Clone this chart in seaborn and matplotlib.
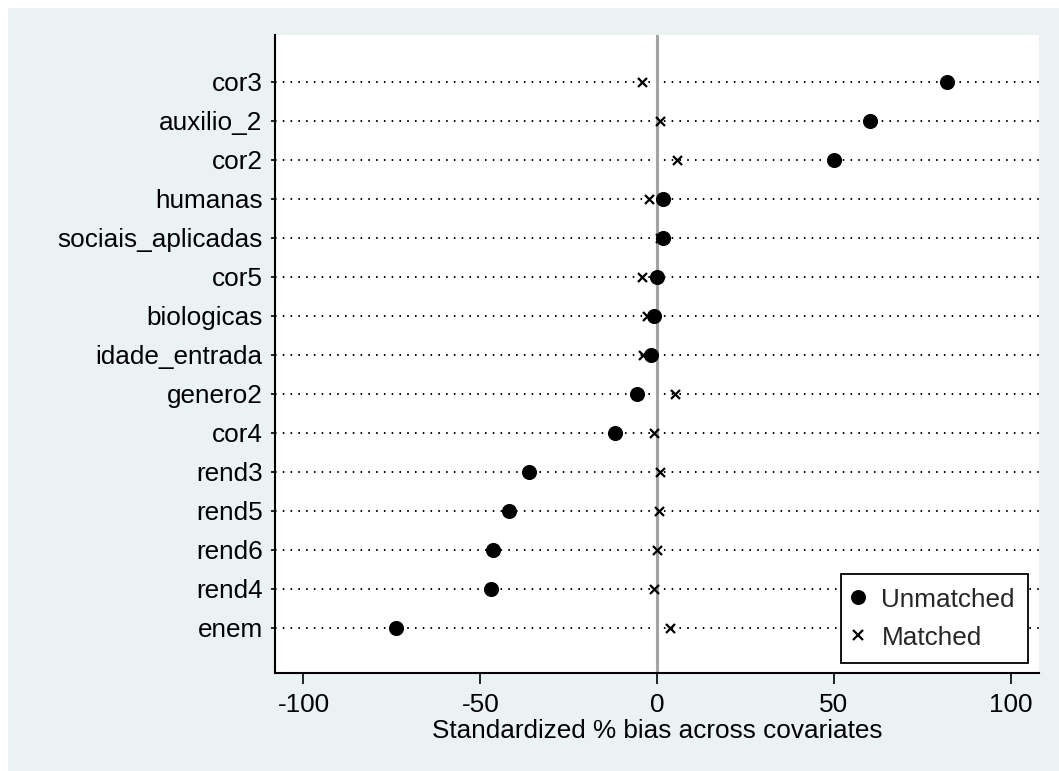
import matplotlib
matplotlib.use("Agg")
import matplotlib.pyplot as plt
from matplotlib.lines import Line2D
from matplotlib.patches import Rectangle
import numpy as np
import pandas as pd
import seaborn as sns

# Covariates, top to bottom
covariates = ["cor3", "auxilio_2", "cor2", "humanas", "sociais_aplicadas", "cor5",
              "biologicas", "idade_entrada", "genero2", "cor4", "rend3", "rend5",
              "rend6", "rend4", "enem"]
# Standardized % bias before matching
bias_unmatched = [81.9, 60.3, 49.9, 1.8, 1.6, 0.1, -0.8, -1.6, -5.6, -12.0,
                  -36.2, -41.8, -46.5, -47.0, -73.8]
# Standardized % bias after matching
bias_matched = [-4.3, 0.9, 5.7, -2.2, 0.8, -4.2, -2.9, -3.9, 5.1, -0.9,
                0.85, 0.6, 0.1, -0.8, 3.7]
xtick_values = [-100, -50, 0, 50, 100]
xlabel_text = "Standardized % bias across covariates"

df = pd.DataFrame({
    "covariate": covariates * 2,
    "bias": bias_unmatched + bias_matched,
    "sample": ["Unmatched"] * len(covariates) + ["Matched"] * len(covariates),
})

sns.set_theme(style="white")
plt.rcParams["font.family"] = ["Liberation Sans", "DejaVu Sans"]

BG = "#EAF2F3"
W, H = 1059, 771
fig = plt.figure(figsize=(W / 100, H / 100), dpi=100, facecolor="white")
fig.add_artist(Rectangle((8 / W, 0), 1 - 8 / W, 1 - 8 / H, transform=fig.transFigure,
                         facecolor=BG, edgecolor="none", zorder=-10))

ax = fig.add_axes([274.5 / W, 1 - 672.7 / H, (1039 - 274.5) / W, (672.7 - 34.7) / H])
ax.set_facecolor("white")

ypos = np.arange(len(covariates))
# dotted guide for every covariate row
for y in ypos:
    ax.axhline(y, color="black", lw=1.4, linestyle=(0, (0.8, 3.2)), zorder=1)
ax.axvline(0, color="#a3a3a3", lw=2.2, zorder=2)

sub_u = df[df["sample"] == "Unmatched"]
sub_m = df[df["sample"] == "Matched"]
sns.scatterplot(data=sub_u, x="bias", y="covariate", marker="o", s=118,
                color="black", edgecolor="black", linewidth=0, ax=ax, zorder=4, legend=False)
sns.scatterplot(data=sub_m, x="bias", y="covariate", marker="x", s=42,
                color="black", linewidth=1.6, ax=ax, zorder=5, legend=False)

ax.set_xlim(-108.2, 108.0)
ax.set_ylim(len(covariates) - 1 + 1.152, -1.203)
ax.set_xticks(xtick_values)
ax.set_xticklabels([str(v) for v in xtick_values])
ax.set_yticks(ypos)
ax.set_yticklabels(covariates)

for side in ["top", "right"]:
    ax.spines[side].set_visible(False)
for side in ["left", "bottom"]:
    ax.spines[side].set_visible(True)
    ax.spines[side].set_color("black")
    ax.spines[side].set_linewidth(1.5)

ax.tick_params(axis="y", which="major", left=True, length=3, width=1.2,
               color="black", pad=5.5, labelsize=18.8, labelcolor="black")
ax.tick_params(axis="x", which="major", bottom=True, length=7.9, width=1.2,
               color="black", pad=7, labelsize=18.8, labelcolor="black")
ax.set_xlabel(xlabel_text, fontsize=18.8, color="black", labelpad=1.5)
ax.set_ylabel("")

handles = [
    Line2D([], [], marker="o", linestyle="none", markersize=10.8, color="black",
           markeredgewidth=0, label="Unmatched"),
    Line2D([], [], marker="x", linestyle="none", markersize=6.5, color="black",
           markeredgewidth=1.6, label="Matched"),
]
leg = ax.legend(handles=handles, loc="lower right", bbox_to_anchor=(0.9856, 0.0157),
                frameon=True, fancybox=False, framealpha=1, edgecolor="black",
                fontsize=18.8, borderpad=0.5, labelspacing=0.54, handlelength=0.23,
                handletextpad=0.8, borderaxespad=0)
leg.get_frame().set_linewidth(1.3)
leg.set_zorder(10)

fig.savefig("out.png", dpi=100, facecolor=fig.get_facecolor())
